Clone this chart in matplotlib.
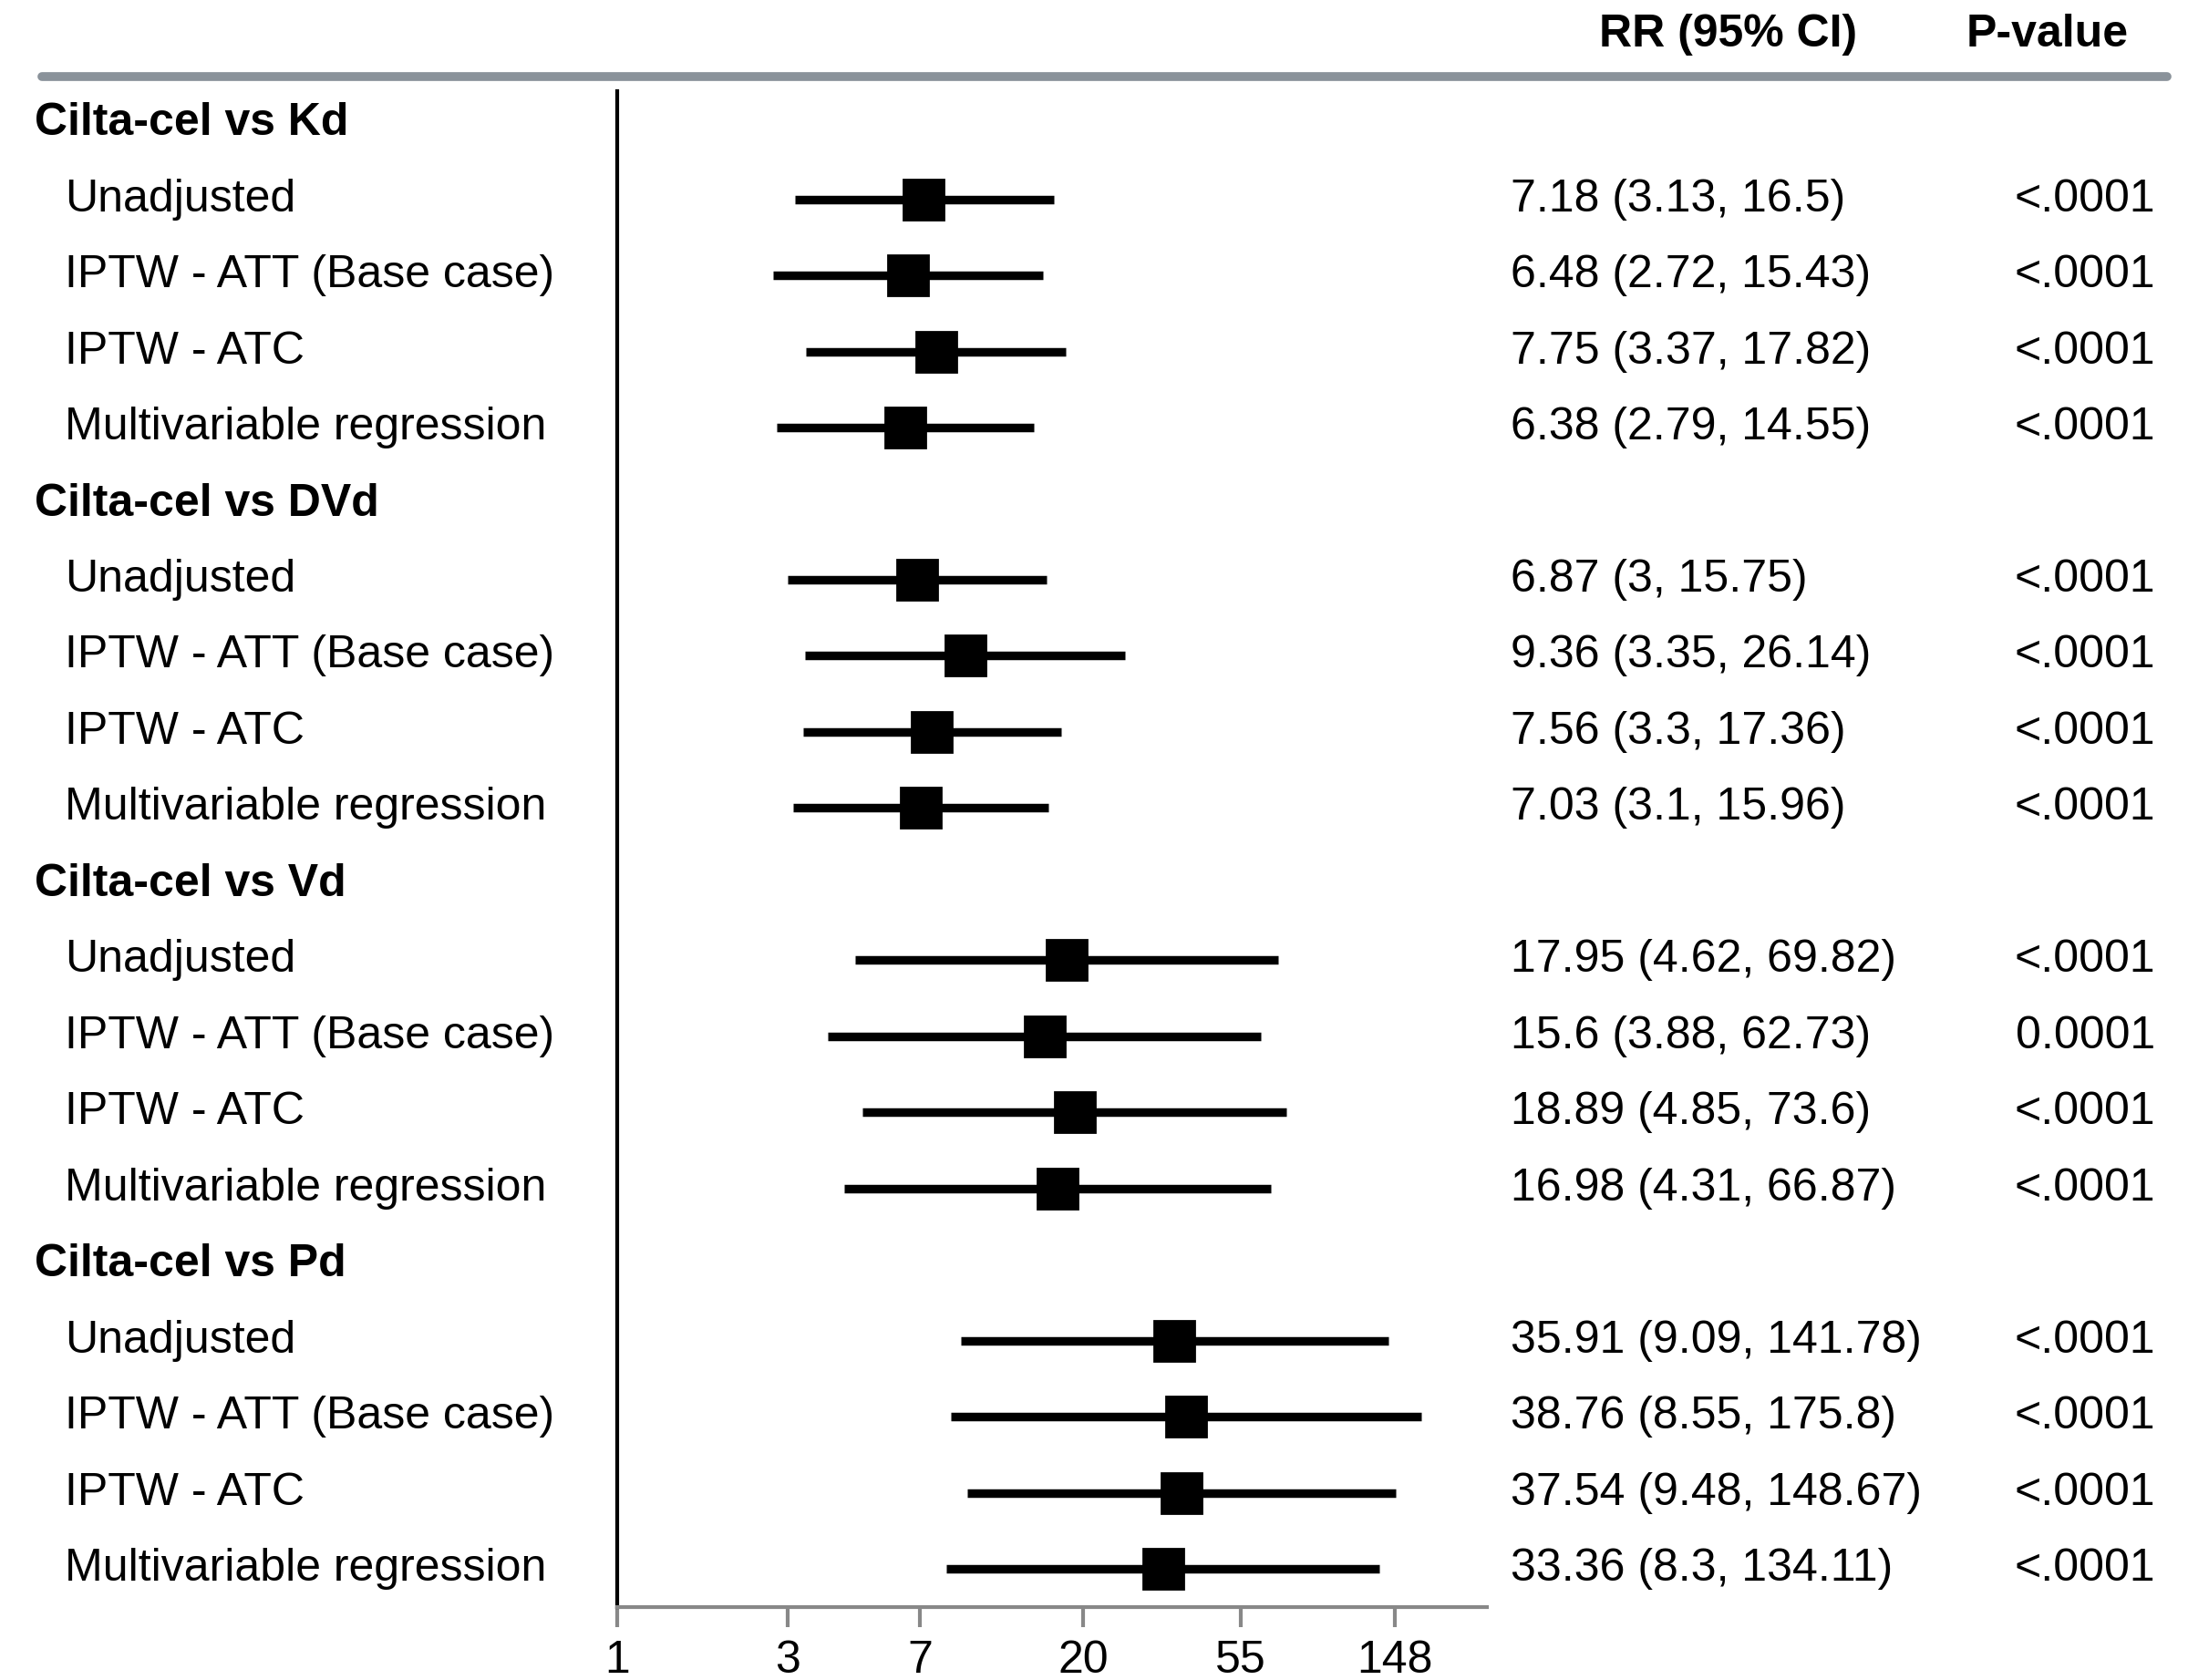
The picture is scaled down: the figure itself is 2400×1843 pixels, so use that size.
import matplotlib
matplotlib.use("Agg")
import matplotlib.pyplot as plt
import numpy as np

plt.rcParams['font.family'] = ['Liberation Sans', 'DejaVu Sans']

groups = ["Cilta-cel vs Kd", "Cilta-cel vs DVd", "Cilta-cel vs Vd", "Cilta-cel vs Pd"]
methods = ["Unadjusted", "IPTW - ATT (Base case)", "IPTW - ATC", "Multivariable regression"]
rr = [7.18, 6.48, 7.75, 6.38, 6.87, 9.36, 7.56, 7.03, 17.95, 15.6, 18.89, 16.98, 35.91, 38.76, 37.54, 33.36]
lo = [3.13, 2.72, 3.37, 2.79, 3.0, 3.35, 3.3, 3.1, 4.62, 3.88, 4.85, 4.31, 9.09, 8.55, 9.48, 8.3]
hi = [16.5, 15.43, 17.82, 14.55, 15.75, 26.14, 17.36, 15.96, 69.82, 62.73, 73.6, 66.87, 141.78, 175.8, 148.67, 134.11]
labels_ci = ["7.18 (3.13, 16.5)", "6.48 (2.72, 15.43)", "7.75 (3.37, 17.82)", "6.38 (2.79, 14.55)",
             "6.87 (3, 15.75)", "9.36 (3.35, 26.14)", "7.56 (3.3, 17.36)", "7.03 (3.1, 15.96)",
             "17.95 (4.62, 69.82)", "15.6 (3.88, 62.73)", "18.89 (4.85, 73.6)", "16.98 (4.31, 66.87)",
             "35.91 (9.09, 141.78)", "38.76 (8.55, 175.8)", "37.54 (9.48, 148.67)", "33.36 (8.3, 134.11)"]
pvals = ["<.0001"] * 9 + ["0.0001"] + ["<.0001"] * 6
ticks = [1, 3, 7, 20, 55, 148]

W, H = 1560.0, 1200.0
fig = plt.figure(figsize=(12, 9.215), dpi=200)
ax = fig.add_axes([440 / W, 1 - 1148 / H, 620 / W, (1148 - 65) / H])
ax.set_xscale("log")
ax.set_xlim(1, 267)
ax.set_ylim(1148, 65)
for s in ["top", "right"]:
    ax.spines[s].set_visible(False)
ax.spines["left"].set_linewidth(1.5)
ax.spines["bottom"].set_color("#888888")
ax.spines["bottom"].set_linewidth(1.5)
ax.set_yticks([])
ax.set_xticks(ticks)
ax.set_xticklabels([str(t) for t in ticks])
ax.minorticks_off()
ax.tick_params(axis="x", direction="out", length=8, width=1.5, color="#888888", labelsize=18, pad=5)

step = 54.35
fs = 18
row = 0
k = 0
for g in groups:
    y = 88 + step * row
    fig.text(25 / W, 1 - y / H, g, fontsize=fs, fontweight="bold", va="center", ha="left")
    row += 1
    for m in methods:
        y = 88 + step * row
        fig.text(46 / W, 1 - y / H, m, fontsize=fs, va="center", ha="left")
        ax.plot([lo[k], hi[k]], [y, y], color="black", lw=3.4, solid_capstyle="butt")
        ax.plot([rr[k]], [y], marker="s", color="black", markersize=16)
        fig.text(1077 / W, 1 - y / H, labels_ci[k], fontsize=fs, va="center", ha="left")
        fig.text(1537 / W, 1 - y / H, pvals[k], fontsize=fs, va="center", ha="right")
        row += 1
        k += 1

fig.text(1232 / W, 1 - 25 / H, "RR (95% CI)", fontsize=fs, fontweight="bold", va="center", ha="center")
fig.text(1460 / W, 1 - 25 / H, "P-value", fontsize=fs, fontweight="bold", va="center", ha="center")
fig.add_artist(plt.Line2D([30 / W, 1545 / W], [1 - 55 / H, 1 - 55 / H], color="#8a929a", lw=3.5,
                          solid_capstyle="round"))
fig.savefig("out.png", dpi=200, facecolor="white")
